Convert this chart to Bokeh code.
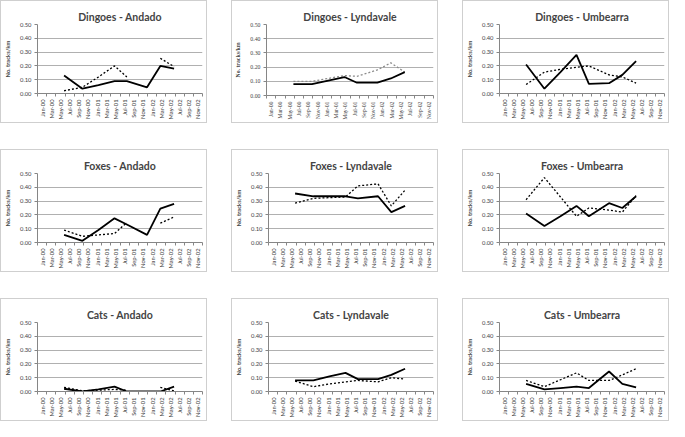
import math
from bokeh.plotting import figure
from bokeh.layouts import column
from bokeh.models import FixedTicker, Range1d, PrintfTickFormatter, GridBox
from bokeh.embed import file_html
from bokeh.resources import INLINE

# ---- data ----
month_labels = ["Jan-00", "Mar-00", "May-00", "Jul-00", "Sep-00", "Nov-00",
                "Jan-01", "Mar-01", "May-01", "Jul-01", "Sep-01", "Nov-01",
                "Jan-02", "Mar-02", "May-02", "Jul-02", "Sep-02", "Nov-02"]
label_months = list(range(0, 36, 2))          # months since Jan-00
survey_months = [4.8, 8.8, 12.3, 15.8, 18.5, 22.9, 25.8, 28.8]
y_ticks = [0.0, 0.1, 0.2, 0.3, 0.4, 0.5]

titles = ["Dingoes - Andado", "Dingoes - Lyndavale", "Dingoes - Umbearra",
          "Foxes - Andado", "Foxes - Lyndavale", "Foxes - Umbearra",
          "Cats - Andado", "Cats - Lyndavale", "Cats - Umbearra"]

dingoes_andado_solid = [0.13, 0.035, 0.06, 0.09, 0.09, 0.045, 0.20, 0.18]
dingoes_andado_dotted = [0.02, 0.045, 0.12, 0.20, 0.12, None, 0.255, 0.195]
dingoes_lyndavale_solid = [0.08, 0.08, 0.105, 0.13, 0.09, 0.09, 0.12, 0.165]
dingoes_lyndavale_dotted = [0.10, 0.10, 0.12, 0.14, 0.135, 0.18, 0.23, 0.165]
dingoes_umbearra_solid = [0.21, 0.035, 0.155, 0.28, 0.07, 0.075, 0.135, 0.235]
dingoes_umbearra_dotted = [0.065, 0.155, 0.175, 0.19, 0.20, 0.135, 0.12, 0.075]

foxes_andado_solid = [0.055, 0.012, 0.09, 0.175, 0.13, 0.055, 0.245, 0.28]
foxes_andado_dotted = [0.09, 0.045, 0.055, 0.065, 0.145, None, 0.14, 0.185]
foxes_lyndavale_solid = [0.355, 0.335, 0.335, 0.335, 0.32, 0.335, 0.22, 0.265]
foxes_lyndavale_dotted = [0.285, 0.32, 0.325, 0.33, 0.41, 0.425, 0.265, 0.38]
foxes_umbearra_solid = [0.21, 0.12, 0.19, 0.265, 0.19, 0.285, 0.25, 0.335]
foxes_umbearra_dotted = [0.31, 0.47, 0.33, 0.19, 0.25, 0.235, 0.22, 0.34]

cats_andado_solid = [0.02, 0.0, 0.015, 0.035, 0.0, 0.0, 0.0, 0.035]
cats_andado_dotted = [0.03, 0.005, 0.01, 0.015, 0.01, None, 0.03, 0.005]
cats_lyndavale_solid = [0.08, 0.08, 0.11, 0.135, 0.09, 0.09, 0.12, 0.165]
cats_lyndavale_dotted = [0.075, 0.035, 0.055, 0.07, 0.08, 0.07, 0.10, 0.09]
cats_umbearra_solid = [0.055, 0.015, 0.025, 0.035, 0.025, 0.145, 0.055, 0.03]
cats_umbearra_dotted = [0.08, 0.035, 0.085, 0.135, 0.08, 0.08, 0.12, 0.165]

solid_series = [dingoes_andado_solid, dingoes_lyndavale_solid, dingoes_umbearra_solid,
                foxes_andado_solid, foxes_lyndavale_solid, foxes_umbearra_solid,
                cats_andado_solid, cats_lyndavale_solid, cats_umbearra_solid]
dotted_series = [dingoes_andado_dotted, dingoes_lyndavale_dotted, dingoes_umbearra_dotted,
                 foxes_andado_dotted, foxes_lyndavale_dotted, foxes_umbearra_dotted,
                 cats_andado_dotted, cats_lyndavale_dotted, cats_umbearra_dotted]


def nanify(vals):
    return [float("nan") if v is None else v for v in vals]


PW, PH = 205, 121
FONT = "Lato"
BORDER = "#cfcfcf"


def make_panel(idx):
    serif = idx == 1
    tick_font = "Liberation Serif" if serif else FONT
    p = figure(width=PW, height=PH, output_backend="svg", toolbar_location=None,
               x_range=Range1d(-1, 35), y_range=Range1d(0, 0.5),
               min_border_left=33, min_border_right=4, min_border_top=23,
               min_border_bottom=26, background_fill_color="white",
               border_fill_color="white", outline_line_color=None)
    p.title.text = titles[idx]
    p.title.align = "center"
    p.title.text_font = FONT
    p.title.text_font_style = "bold"
    p.title.text_font_size = "10.5px"
    p.title.standoff = 4

    xa = p.xaxis[0]
    xa.ticker = FixedTicker(ticks=label_months,
                            minor_ticks=list(range(-1, 36, 2)))
    xa.major_label_overrides = {m: lab for m, lab in zip(label_months, month_labels)}
    xa.major_label_orientation = math.pi / 2
    xa.major_label_text_font = tick_font
    xa.major_label_text_font_size = "5.8px"
    xa.major_label_standoff = 3
    xa.major_tick_out = 0
    xa.major_tick_in = 0
    xa.minor_tick_out = 3
    xa.minor_tick_in = 0
    xa.minor_tick_line_color = "#868686"
    xa.axis_line_color = "#868686"

    ya = p.yaxis[0]
    ya.ticker = FixedTicker(ticks=y_ticks, minor_ticks=[])
    ya.formatter = PrintfTickFormatter(format="%.2f")
    ya.major_label_text_font = tick_font
    ya.major_label_text_font_size = "5.8px"
    ya.major_label_standoff = 3
    ya.major_tick_out = 3
    ya.major_tick_in = 0
    ya.major_tick_line_color = "#868686"
    ya.axis_line_color = "#868686"
    ya.axis_label = "No. tracks/km"
    ya.axis_label_text_font = tick_font
    ya.axis_label_text_font_style = "bold"
    ya.axis_label_text_font_size = "5.8px"
    ya.axis_label_standoff = 6

    p.xgrid.visible = False
    p.ygrid.ticker = FixedTicker(ticks=y_ticks)
    p.ygrid.grid_line_color = "#b0b0b0"
    p.ygrid.grid_line_width = 1

    dcol = "#8c8c8c" if serif else "black"
    p.line(survey_months, nanify(dotted_series[idx]), line_color=dcol,
           line_width=1.3, line_dash="2 2")
    p.line(survey_months, nanify(solid_series[idx]), line_color="black",
           line_width=1.8)
    return column(p, styles={"border": "1px solid %s" % BORDER})


children = [(make_panel(i), i // 3, i % 3) for i in range(9)]
grid = GridBox(children=children, spacing=(26, 24))

open("out.html", "w").write(file_html(grid, INLINE))
